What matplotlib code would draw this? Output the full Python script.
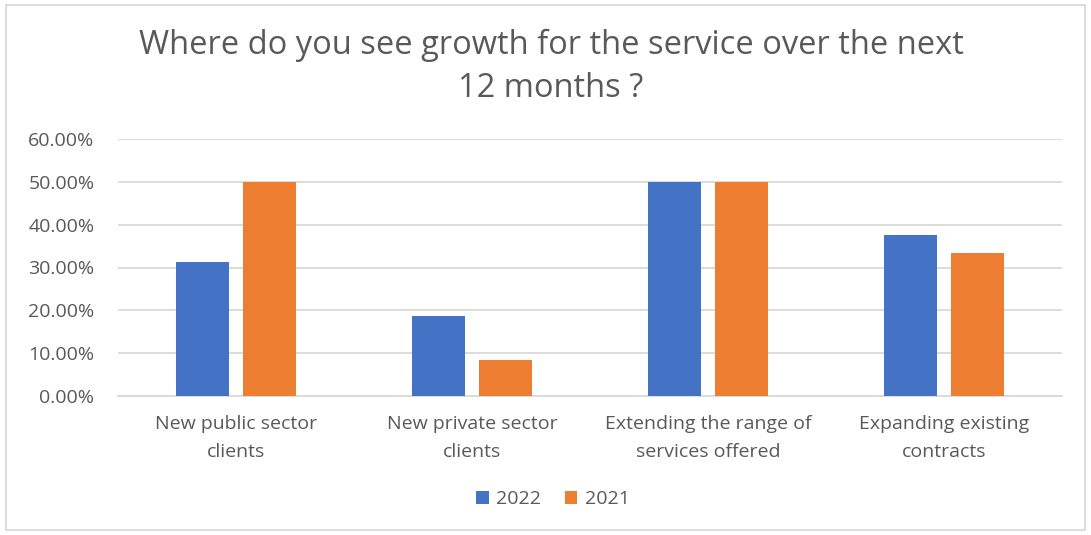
import numpy as np
import matplotlib.pyplot as plt
from matplotlib.patches import Rectangle
from matplotlib.ticker import FuncFormatter

categories = ['New public sector\nclients', 'New private sector\nclients',
              'Extending the range of\nservices offered', 'Expanding existing\ncontracts']
share_2022 = [31.25, 18.75, 50.0, 37.5]
share_2021 = [50.0, 8.33, 50.0, 33.33]

plt.rcParams['font.family'] = ['Open Sans', 'DejaVu Sans']
text_col = '#595959'

fig = plt.figure(figsize=(10.91, 5.35), dpi=100)
ax = fig.add_axes([118 / 1091, 1 - 396 / 535, 944 / 1091, 257 / 535])

x = np.arange(len(categories))
w = 0.225
ax.bar(x - 0.142, share_2022, w, color='#4472c4', label='2022', zorder=3)
ax.bar(x + 0.142, share_2021, w, color='#ed7d31', label='2021', zorder=3)

ax.set_xlim(-0.5, len(categories) - 0.5)
ax.set_ylim(0, 60)
ax.set_yticks(np.arange(0, 61, 10))
ax.yaxis.set_major_formatter(FuncFormatter(lambda v, _: f'{v:.2f}%'))
ax.set_xticks(x)
ax.set_xticklabels(categories, linespacing=1.65)
ax.tick_params(axis='both', length=0, labelsize=14, colors=text_col)
ax.tick_params(axis='y', pad=17)
ax.tick_params(axis='x', pad=14)
ax.grid(axis='y', color='#d9d9d9', linewidth=1.3, zorder=0)
for side in ['top', 'right', 'left']:
    ax.spines[side].set_visible(False)
ax.spines['bottom'].set_color('#d9d9d9')
ax.spines['bottom'].set_linewidth(1.3)

fig.text(0.505, 1 - 67 / 535, 'Where do you see growth for the service over the next\n12 months ?',
         ha='center', va='center', fontsize=23.5, color=text_col, linespacing=1.4)

fig.legend(loc='center', bbox_to_anchor=(553 / 1091, 1 - 499 / 535), ncol=2, frameon=False,
           fontsize=14, labelcolor=text_col, handlelength=0.65, handleheight=0.65,
           handletextpad=0.4, columnspacing=1.2)

fig.patches.append(Rectangle((6 / 1091, 5 / 535), 1079 / 1091, 525 / 535, transform=fig.transFigure,
                             fill=False, edgecolor='#d9d9d9', linewidth=1.3))

fig.savefig('out.png', dpi=100)
